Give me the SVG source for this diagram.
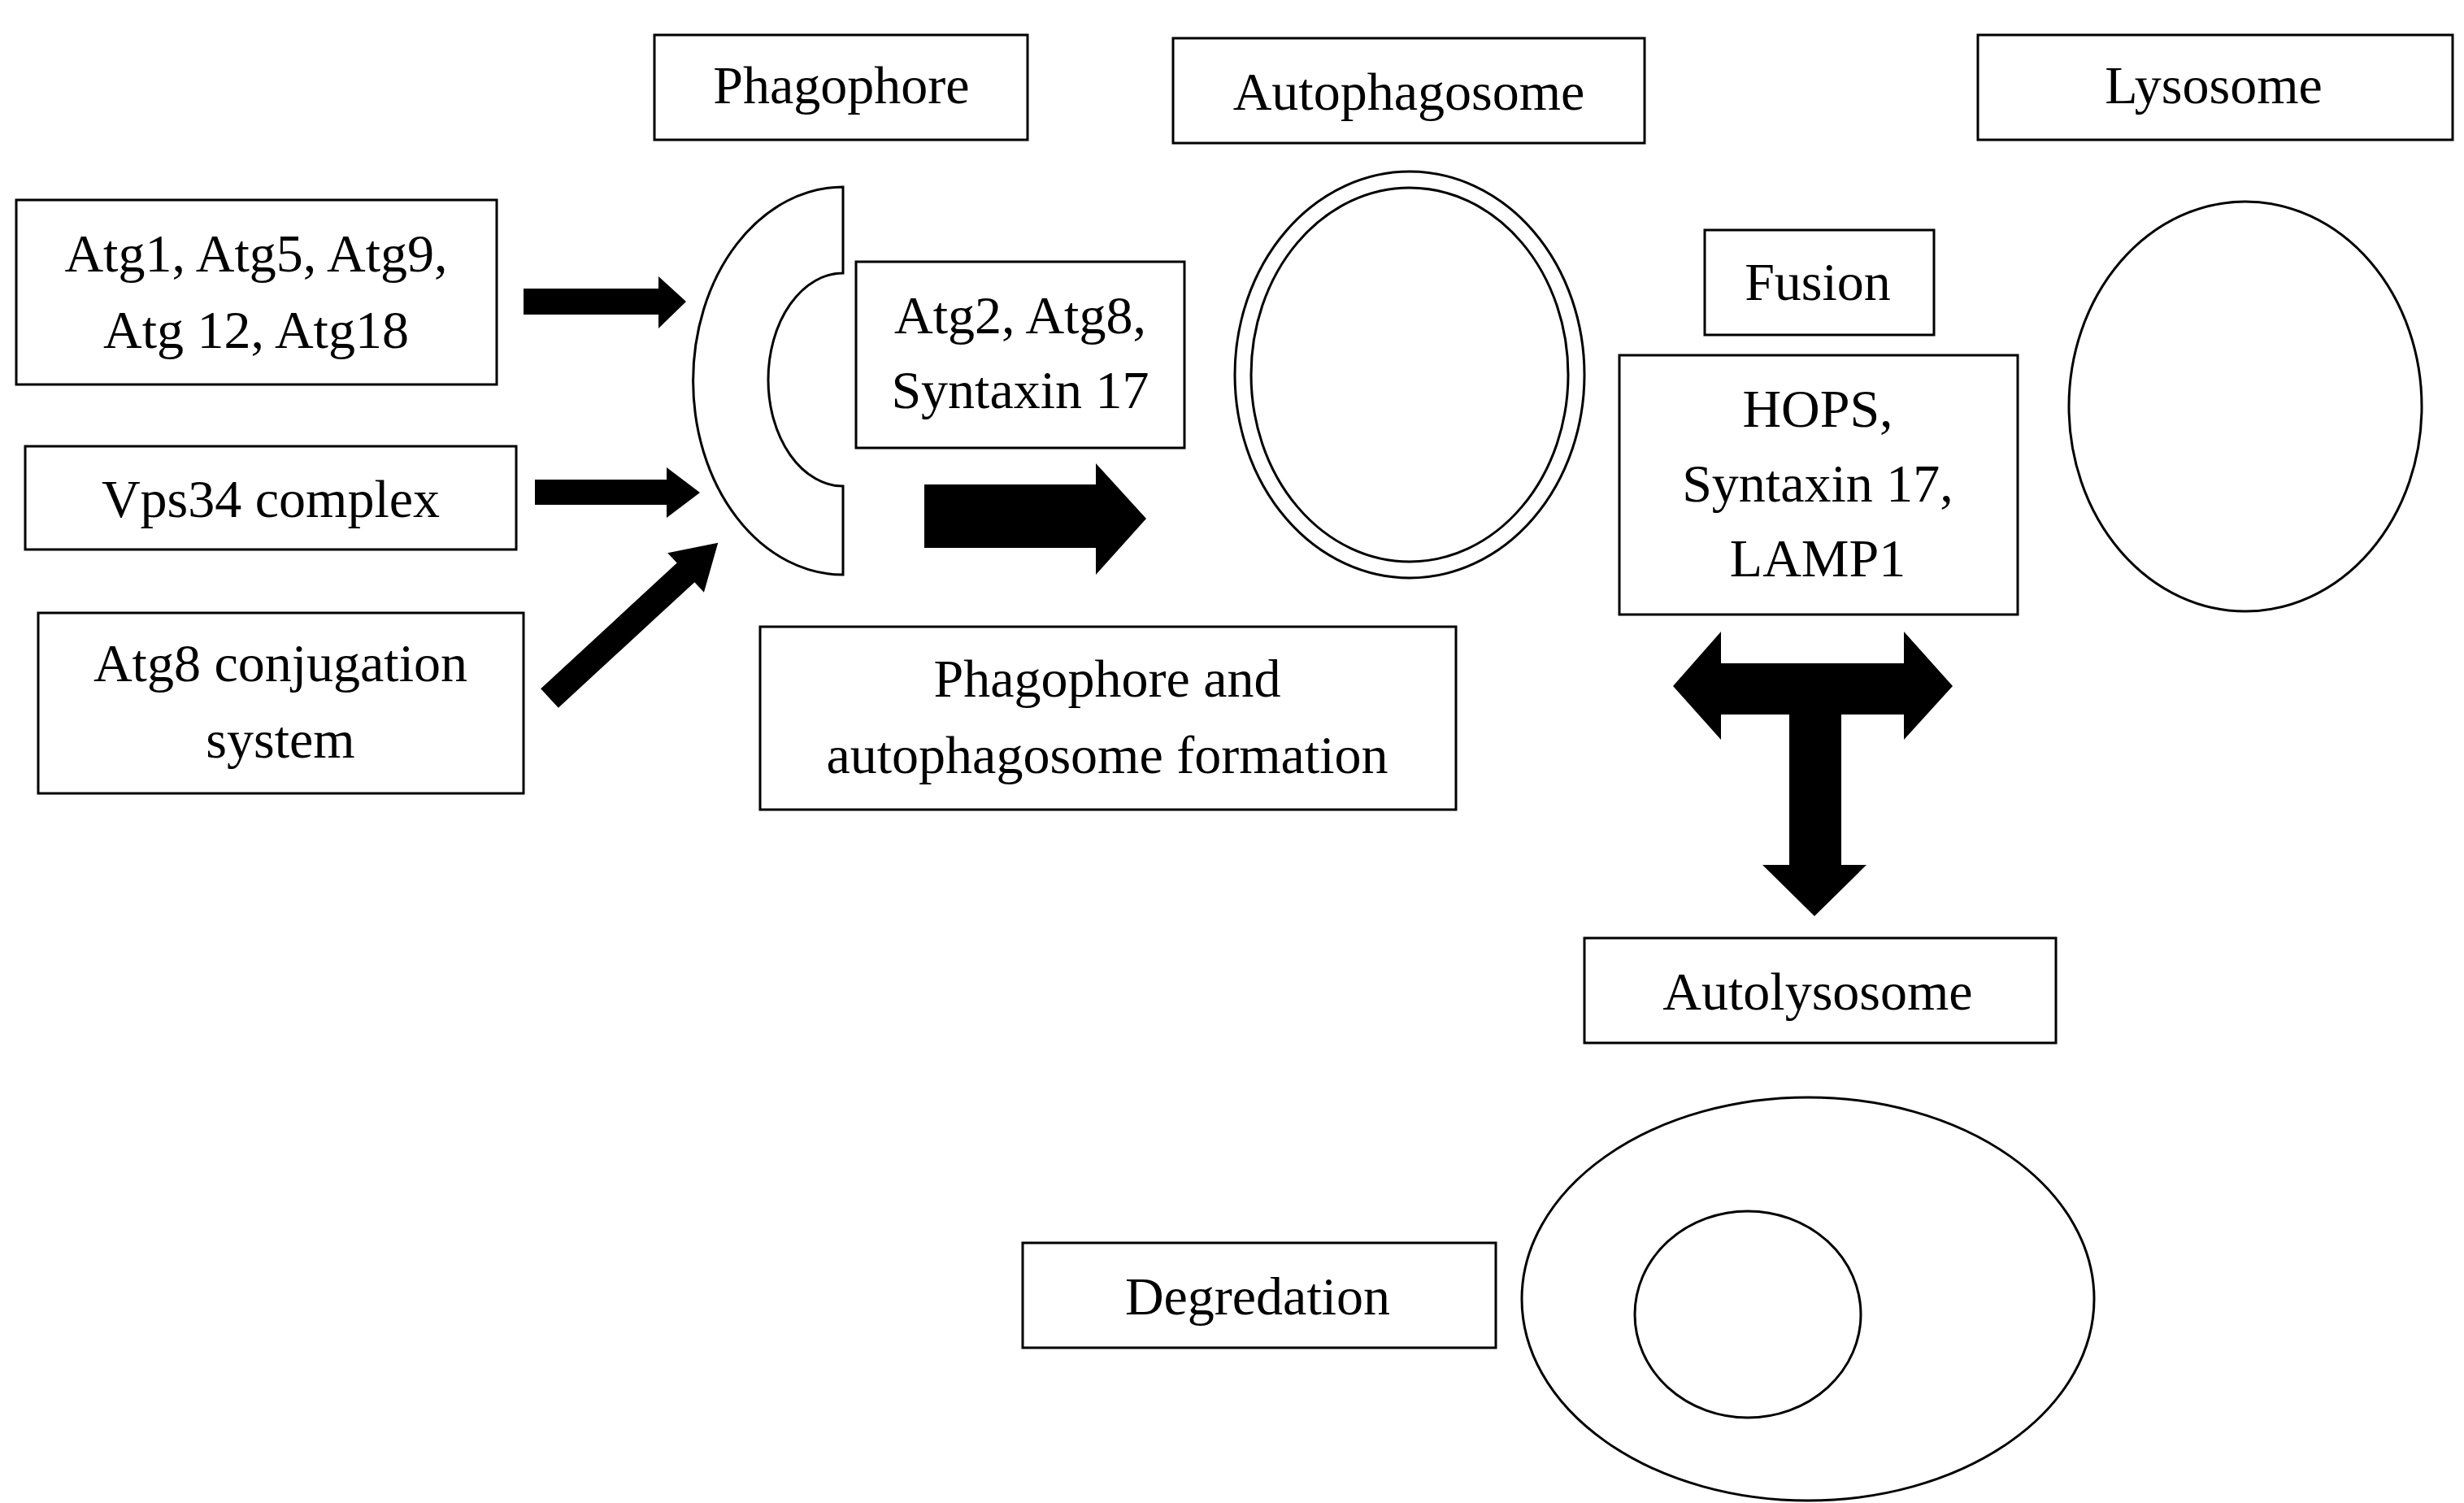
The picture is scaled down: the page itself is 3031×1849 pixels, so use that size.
<svg xmlns="http://www.w3.org/2000/svg" width="3031" height="1849" viewBox="0 0 3031 1849">
<style>
.b{fill:#fff;stroke:#000;stroke-width:3}
.s{fill:none;stroke:#000;stroke-width:3}
text{font-family:"Liberation Serif",serif;font-size:66px;text-anchor:middle;fill:#000}
.a{fill:#000}
</style>
<rect width="3031" height="1849" fill="#fff"/>
<g id="phagophore"><rect class="b" x="805" y="43" width="459" height="129"/><text x="1035" y="127">Phagophore</text>
<path class="s" d="M1037,230 A184,238 0 0 0 1037,707 L1037,598 A92,131 0 0 1 1037,336 Z"/></g>
<g id="autophagosome"><rect class="b" x="1443" y="47" width="580" height="129"/><text x="1733" y="135">Autophagosome</text>
<ellipse class="s" cx="1734" cy="461" rx="215" ry="250"/><ellipse class="s" cx="1734" cy="461" rx="195" ry="230"/></g>
<g id="lysosome"><rect class="b" x="2433" y="43" width="584" height="129"/><text x="2723" y="127">Lysosome</text>
<ellipse class="s" cx="2762" cy="500" rx="217" ry="252"/></g>
<g id="atg1"><rect class="b" x="20" y="246" width="591" height="227"/><text x="315" y="334">Atg1, Atg5, Atg9,</text><text x="315" y="428">Atg 12, Atg18</text></g>
<g id="vps34"><rect class="b" x="31" y="549" width="604" height="127"/><text x="333" y="636">Vps34 complex</text></g>
<g id="atg8conj"><rect class="b" x="47" y="754" width="597" height="222"/><text x="345" y="838">Atg8 conjugation</text><text x="345" y="932">system</text></g>
<g id="atg2"><rect class="b" x="1053" y="322" width="404" height="229"/><text x="1255" y="410">Atg2, Atg8,</text><text x="1255" y="502">Syntaxin 17</text></g>
<g id="formation"><rect class="b" x="935" y="771" width="856" height="225"/><text x="1362" y="857">Phagophore and</text><text x="1362" y="951">autophagosome formation</text></g>
<g id="fusion"><rect class="b" x="2097" y="283" width="282" height="129"/><text x="2236" y="369">Fusion</text></g>
<g id="hops"><rect class="b" x="1992" y="437" width="490" height="319"/><text x="2236" y="525">HOPS,</text><text x="2236" y="617">Syntaxin 17,</text><text x="2236" y="709">LAMP1</text></g>
<g id="autolysosome"><rect class="b" x="1949" y="1154" width="580" height="129"/><text x="2236" y="1242">Autolysosome</text>
<ellipse class="s" cx="2224" cy="1598" rx="352" ry="248"/><ellipse class="s" cx="2150" cy="1617" rx="139" ry="127"/></g>
<g id="degredation"><rect class="b" x="1258" y="1529" width="582" height="129"/><text x="1547" y="1617">Degredation</text></g>
<g id="connectors">
<polygon class="a" points="644,355 810,355 810,340 844,371 810,404 810,387 644,387"/>
<polygon class="a" points="658,590 820,590 820,575 861,606 820,637 820,621 658,621"/>
<polygon class="a" transform="translate(676,859) rotate(-42.7)" points="0,-16 228,-16 228,-33 282,0 228,33 228,16 0,16"/>
<polygon class="a" points="1137,596 1348,596 1348,570 1410,638 1348,707 1348,674 1137,674"/>
<polygon class="a" points="2058,844 2117,777 2117,816 2342,816 2342,777 2402,844 2342,910 2342,879 2265,879 2265,1064 2296,1064 2232,1127 2168,1064 2201,1064 2201,879 2117,879 2117,910"/>
</g>
</svg>
